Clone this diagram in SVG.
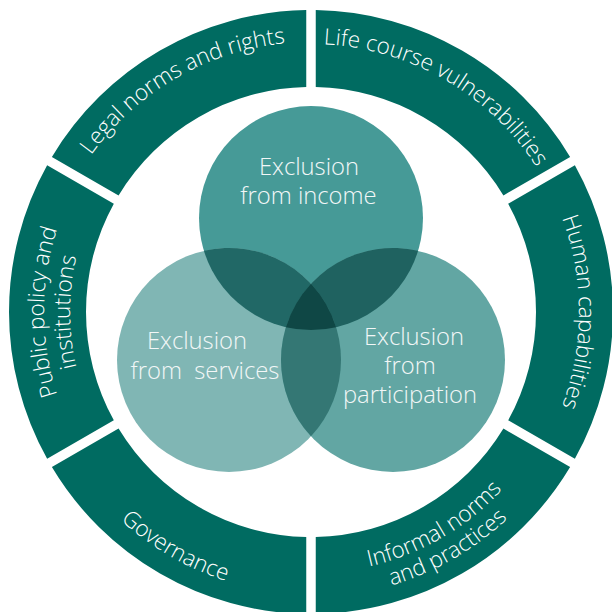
<svg xmlns="http://www.w3.org/2000/svg" width="612" height="612" viewBox="0 0 612 612">
  <style>
    .seg { fill: #006b61; }
    .ringtxt { font-family: "Open Sans", "Noto Sans", "Liberation Sans", sans-serif; font-weight: 300; font-size: 22.5px; fill: #ffffff; }
    .ctxt { font-family: "Open Sans", "Noto Sans", "Liberation Sans", sans-serif; font-weight: 300; font-size: 23.8px; fill: #f2f7f7; text-anchor: middle; }
  </style>
  <defs>
    <!-- baselines for the ring labels, all centred on the segment mid-angle -->
    <path id="arcLegal" d="M 41 312 A 270 270 0 0 1 446 78.17"/>
    <path id="arcLife" d="M 177 79.91 A 268 268 0 0 1 579 312"/>
    <path id="arcHuman" d="M 445 79.91 A 268 268 0 0 1 445 544.09"/>
    <path id="arcPublic1" d="M 177.5 543.22 A 267 267 0 0 1 177.5 80.78"/>
    <path id="arcPublic2" d="M 190.5 520.71 A 241 241 0 0 1 190.5 103.29"/>
    <path id="arcGov" d="M 29 312 A 282 282 0 0 0 452 556.22"/>
    <path id="arcInf1" d="M 180.5 538.03 A 261 261 0 0 0 572 312"/>
    <path id="arcInf2" d="M 168.5 558.81 A 285 285 0 0 0 596 312"/>
  </defs>

  <!-- outer ring of six segments -->
  <g id="ring">
    <g id="seg-legal">
      <path class="seg" d="M 306.25 10.04 A 302 302 0 0 0 51.88 156.91 L 118.57 195.41 A 225 225 0 0 1 306.25 87.05 Z"/>
      <text class="ringtxt"><textPath href="#arcLegal" startOffset="50%" text-anchor="middle">Legal norms and rights</textPath></text>
    </g>
    <g id="seg-life">
      <path class="seg" d="M 570.13 156.91 A 302 302 0 0 0 315.75 10.04 L 315.75 87.05 A 225 225 0 0 1 503.44 195.41 Z"/>
      <text class="ringtxt"><textPath href="#arcLife" startOffset="50%" text-anchor="middle">Life course vulnerabilities</textPath></text>
    </g>
    <g id="seg-human">
      <path class="seg" d="M 574.88 458.87 A 302 302 0 0 0 574.88 165.13 L 508.19 203.64 A 225 225 0 0 1 508.19 420.36 Z"/>
      <text class="ringtxt"><textPath href="#arcHuman" startOffset="50%" text-anchor="middle">Human capabilities</textPath></text>
    </g>
    <g id="seg-informal">
      <path class="seg" d="M 315.75 613.96 A 302 302 0 0 0 570.13 467.09 L 503.44 428.59 A 225 225 0 0 1 315.75 536.95 Z"/>
      <text class="ringtxt"><textPath href="#arcInf1" startOffset="50%" text-anchor="middle">Informal norms</textPath></text>
      <text class="ringtxt"><textPath href="#arcInf2" startOffset="50%" text-anchor="middle">and practices</textPath></text>
    </g>
    <g id="seg-governance">
      <path class="seg" d="M 51.88 467.09 A 302 302 0 0 0 306.25 613.96 L 306.25 536.95 A 225 225 0 0 1 118.57 428.59 Z"/>
      <text class="ringtxt"><textPath href="#arcGov" startOffset="50%" text-anchor="middle">Governance</textPath></text>
    </g>
    <g id="seg-public">
      <path class="seg" d="M 47.13 165.13 A 302 302 0 0 0 47.13 458.87 L 113.82 420.36 A 225 225 0 0 1 113.82 203.64 Z"/>
      <text class="ringtxt"><textPath href="#arcPublic1" startOffset="50%" text-anchor="middle">Public policy and</textPath></text>
      <text class="ringtxt"><textPath href="#arcPublic2" startOffset="50%" text-anchor="middle">institutions</textPath></text>
    </g>
  </g>

  <!-- three overlapping circles -->
  <g id="venn">
    <g id="circle-income">
      <circle cx="311" cy="218" r="112" fill="#469a97"/>
    </g>
    <g id="circle-services">
      <circle cx="229" cy="360" r="112" fill="#80b6b4"/>
    </g>
    <g id="circle-participation">
      <circle cx="393" cy="360" r="112" fill="#62a6a3"/>
    </g>
    <!-- pairwise overlaps -->
    <path id="overlap-income-services" fill="#216866" d="M 203.93 250.85 A 112 112 0 0 0 336.07 327.15 A 112 112 0 0 0 203.93 250.85 Z"/>
    <path id="overlap-income-participation" fill="#1f6260" d="M 285.93 327.15 A 112 112 0 0 0 418.07 250.85 A 112 112 0 0 0 285.93 327.15 Z"/>
    <path id="overlap-services-participation" fill="#347774" d="M 311 283.71 A 112 112 0 0 1 311 436.29 A 112 112 0 0 1 311 283.71 Z"/>
    <!-- common core -->
    <path id="overlap-all" fill="#0f4745" d="M 311 283.71 A 112 112 0 0 0 285.93 327.15 A 112 112 0 0 0 336.07 327.15 A 112 112 0 0 0 311 283.71 Z"/>

    <text class="ctxt" x="309" y="175">Exclusion</text>
    <text class="ctxt" x="308.5" y="204">from income</text>
    <text class="ctxt" x="197" y="349">Exclusion</text>
    <text class="ctxt" x="205" y="379" xml:space="preserve">from  services</text>
    <text class="ctxt" x="414" y="345">Exclusion</text>
    <text class="ctxt" x="410" y="374">from</text>
    <text class="ctxt" x="410" y="403">participation</text>
  </g>
</svg>
